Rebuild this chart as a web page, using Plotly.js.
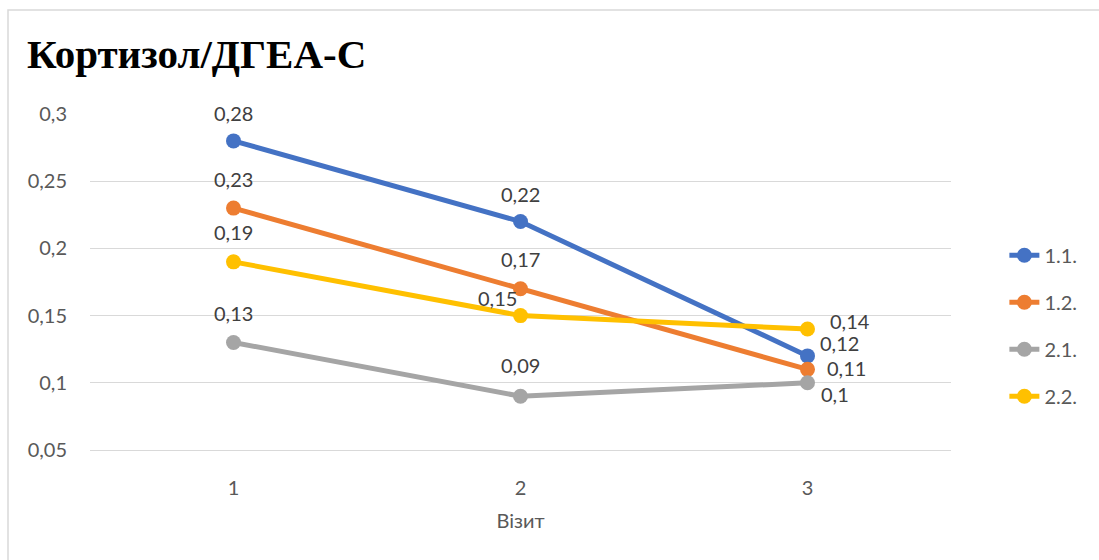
<!DOCTYPE html>
<html>
<head>
<meta charset="utf-8">
<script src="https://cdn.plot.ly/plotly-3.0.1.min.js"></script>
<style>
  html, body { margin: 0; padding: 0; background: #fff; }
  #chart { width: 1099px; height: 560px; }
</style>
</head>
<body>
<div id="chart"></div>
<script>
// Visits on the x axis
const visits = ['1', '2', '3'];

// Cortisol / DHEA-S ratio per group
const seriesNames = ['1.1.', '1.2.', '2.1.', '2.2.'];
const group11 = [0.28, 0.22, 0.12];
const group12 = [0.23, 0.17, 0.11];
const group21 = [0.13, 0.09, 0.10];
const group22 = [0.19, 0.15, 0.14];

const seriesValues = [group11, group12, group21, group22];
const seriesColors = ['#4472C4', '#ED7D31', '#A5A5A5', '#FFC000'];

// Label offsets (px) from each point: [xshift, yshift]
const labelOffsets = [
  [[0, 28], [0, 28], [32, 13]],
  [[0, 29], [0, 30], [39, 1]],
  [[0, 29], [0, 31], [27, -11]],
  [[0, 30], [-23, 18], [42, 8]]
];

const fmt = v => String(v).replace('.', ',');
const uiFont = 'Lato, "Open Sans", sans-serif';

const traces = seriesValues.map((vals, i) => ({
  type: 'scatter',
  mode: 'lines+markers',
  name: seriesNames[i],
  x: visits,
  y: vals,
  line: { color: seriesColors[i], width: 5 },
  marker: { color: seriesColors[i], size: 15 },
  legendgroup: 'g' + i,
  hoverinfo: 'skip'
}));

// Value labels, positioned by category index on the x axis
const annotations = [];
seriesValues.forEach((vals, i) => {
  vals.forEach((v, j) => {
    annotations.push({
      x: j, y: v, xref: 'x', yref: 'y',
      text: fmt(v), showarrow: false,
      xanchor: 'center', yanchor: 'middle',
      xshift: labelOffsets[i][j][0], yshift: labelOffsets[i][j][1],
      font: { family: uiFont, size: 20, color: '#404040' }
    });
  });
});

const layout = {
  width: 1099, height: 560,
  margin: { l: 90, r: 148, t: 114, b: 110 },
  paper_bgcolor: '#ffffff',
  plot_bgcolor: '#ffffff',
  separators: ', ',
  showlegend: true,
  title: {
    text: 'Кортизол/ДГЕА-С',
    font: { family: '"Liberation Serif", "Times New Roman", serif', size: 41, color: '#000000', weight: 'bold' },
    xref: 'container', yref: 'container',
    x: 27 / 1099, xanchor: 'left',
    y: 1 - 54 / 560, yanchor: 'middle'
  },
  xaxis: {
    type: 'category',
    range: [-0.5, 2.5],
    showgrid: false,
    showline: true, linecolor: '#D9D9D9', linewidth: 1,
    ticks: '',
    ticklabelstandoff: 20,
    tickfont: { family: uiFont, size: 20, color: '#595959' },
    title: {
      text: 'Візит',
      font: { family: uiFont, size: 20, color: '#595959' },
      standoff: 15
    },
    zeroline: false,
    fixedrange: true
  },
  yaxis: {
    range: [0.05, 0.3],
    tick0: 0.05, dtick: 0.05,
    showgrid: true, gridcolor: '#D9D9D9', gridwidth: 1,
    showline: false, zeroline: false,
    ticks: '',
    ticklabelstandoff: 22,
    tickfont: { family: uiFont, size: 20, color: '#595959' },
    fixedrange: true
  },
  legend: {
    x: 1.062, xanchor: 'left',
    y: 0.37, yanchor: 'middle',
    traceorder: 'grouped',
    tracegroupgap: 18,
    font: { family: uiFont, size: 20, color: '#595959' },
    bgcolor: 'rgba(0,0,0,0)'
  },
  annotations: annotations,
  shapes: [{
    type: 'rect', xref: 'paper', yref: 'paper',
    x0: (8 - 90) / 861, x1: (1110 - 90) / 861,
    y0: (450 - 575) / 336, y1: 1 + (114 - 10) / 336,
    line: { color: '#D9D9D9', width: 1.5 },
    fillcolor: 'rgba(0,0,0,0)',
    layer: 'below'
  }]
};

Plotly.newPlot('chart', traces, layout, { displayModeBar: false, staticPlot: true });
</script>
</body>
</html>
